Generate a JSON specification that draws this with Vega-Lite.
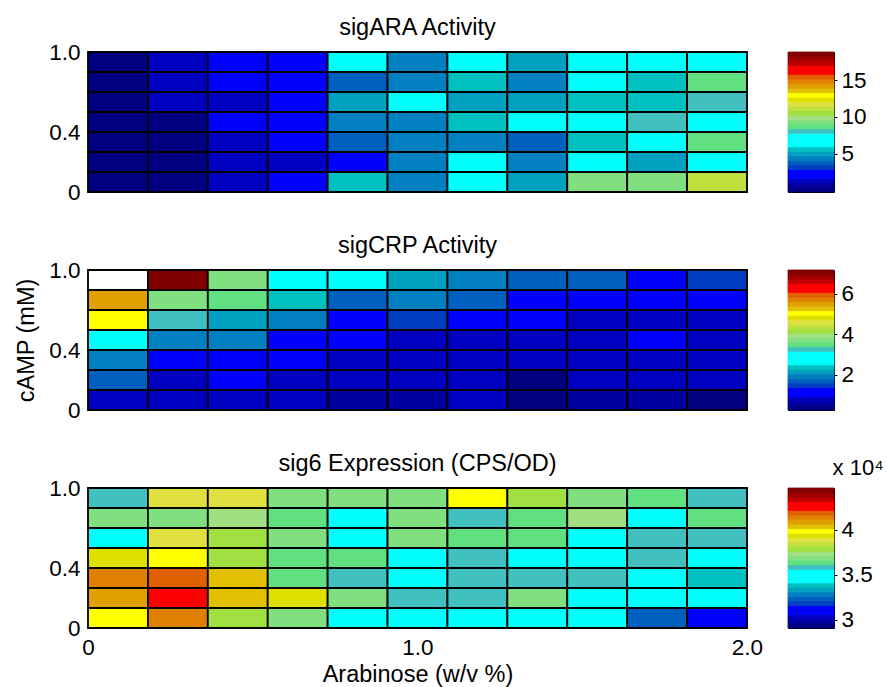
{
"$schema":"https://vega.github.io/schema/vega-lite/v6.json",
"padding":{"left":14,"top":15,"right":5,"bottom":0},
"spacing":218,
"bounds":"flush",
"resolve":{"scale":{"color":"independent","x":"independent","y":"independent"}},
"config":{"font":"Liberation Sans","axis":{"labelFont":"Liberation Sans","labelFontSize":22.5,"labelColor":"#000","titleFont":"Liberation Sans","titleFontSize":23.5,"titleFontWeight":"normal","titleColor":"#000","grid":false,"domain":false,"ticks":false,"labelFlush":false,"labelOverlap":false,"labelPadding":8},"title":{"font":"Liberation Sans","fontSize":23.5,"fontWeight":"normal","color":"#000","offset":2},"view":{"stroke":"#555"}},
"datasets":{
"cb":[{"l":0,"l2":1},{"l":1,"l2":2},{"l":2,"l2":3},{"l":3,"l2":4},{"l":4,"l2":5},{"l":5,"l2":6},{"l":6,"l2":7},{"l":7,"l2":8},{"l":8,"l2":9},{"l":9,"l2":10},{"l":10,"l2":11},{"l":11,"l2":12},{"l":12,"l2":13},{"l":13,"l2":14},{"l":14,"l2":15},{"l":15,"l2":16},{"l":16,"l2":17},{"l":17,"l2":18},{"l":18,"l2":19},{"l":19,"l2":20},{"l":20,"l2":21},{"l":21,"l2":22},{"l":22,"l2":23},{"l":23,"l2":24},{"l":24,"l2":25},{"l":25,"l2":26},{"l":26,"l2":27},{"l":27,"l2":28},{"l":28,"l2":29},{"l":29,"l2":30},{"l":30,"l2":31}],
"cells":[
{"p":1,"r":6,"r2":7,"c":0,"c2":1,"v":0.11},{"p":1,"r":6,"r2":7,"c":1,"c2":2,"v":1.33},{"p":1,"r":6,"r2":7,"c":2,"c2":3,"v":1.95},{"p":1,"r":6,"r2":7,"c":3,"c2":4,"v":1.95},{"p":1,"r":6,"r2":7,"c":4,"c2":5,"v":6.85},{"p":1,"r":6,"r2":7,"c":5,"c2":6,"v":4.40},{"p":1,"r":6,"r2":7,"c":6,"c2":7,"v":6.85},{"p":1,"r":6,"r2":7,"c":7,"c2":8,"v":5.01},{"p":1,"r":6,"r2":7,"c":8,"c2":9,"v":6.85},{"p":1,"r":6,"r2":7,"c":9,"c2":10,"v":6.85},{"p":1,"r":6,"r2":7,"c":10,"c2":11,"v":6.85},
{"p":1,"r":5,"r2":6,"c":0,"c2":1,"v":0.11},{"p":1,"r":5,"r2":6,"c":1,"c2":2,"v":1.33},{"p":1,"r":5,"r2":6,"c":2,"c2":3,"v":1.95},{"p":1,"r":5,"r2":6,"c":3,"c2":4,"v":1.95},{"p":1,"r":5,"r2":6,"c":4,"c2":5,"v":3.78},{"p":1,"r":5,"r2":6,"c":5,"c2":6,"v":4.40},{"p":1,"r":5,"r2":6,"c":6,"c2":7,"v":5.62},{"p":1,"r":5,"r2":6,"c":7,"c2":8,"v":4.40},{"p":1,"r":5,"r2":6,"c":8,"c2":9,"v":6.85},{"p":1,"r":5,"r2":6,"c":9,"c2":10,"v":5.62},{"p":1,"r":5,"r2":6,"c":10,"c2":11,"v":8.69},
{"p":1,"r":4,"r2":5,"c":0,"c2":1,"v":0.11},{"p":1,"r":4,"r2":5,"c":1,"c2":2,"v":1.33},{"p":1,"r":4,"r2":5,"c":2,"c2":3,"v":1.33},{"p":1,"r":4,"r2":5,"c":3,"c2":4,"v":1.95},{"p":1,"r":4,"r2":5,"c":4,"c2":5,"v":5.01},{"p":1,"r":4,"r2":5,"c":5,"c2":6,"v":6.85},{"p":1,"r":4,"r2":5,"c":6,"c2":7,"v":5.01},{"p":1,"r":4,"r2":5,"c":7,"c2":8,"v":5.01},{"p":1,"r":4,"r2":5,"c":8,"c2":9,"v":5.62},{"p":1,"r":4,"r2":5,"c":9,"c2":10,"v":5.62},{"p":1,"r":4,"r2":5,"c":10,"c2":11,"v":8.07},
{"p":1,"r":3,"r2":4,"c":0,"c2":1,"v":0.11},{"p":1,"r":3,"r2":4,"c":1,"c2":2,"v":0.11},{"p":1,"r":3,"r2":4,"c":2,"c2":3,"v":1.95},{"p":1,"r":3,"r2":4,"c":3,"c2":4,"v":1.95},{"p":1,"r":3,"r2":4,"c":4,"c2":5,"v":4.40},{"p":1,"r":3,"r2":4,"c":5,"c2":6,"v":4.40},{"p":1,"r":3,"r2":4,"c":6,"c2":7,"v":5.62},{"p":1,"r":3,"r2":4,"c":7,"c2":8,"v":6.85},{"p":1,"r":3,"r2":4,"c":8,"c2":9,"v":6.85},{"p":1,"r":3,"r2":4,"c":9,"c2":10,"v":8.07},{"p":1,"r":3,"r2":4,"c":10,"c2":11,"v":6.85},
{"p":1,"r":2,"r2":3,"c":0,"c2":1,"v":0.11},{"p":1,"r":2,"r2":3,"c":1,"c2":2,"v":0.11},{"p":1,"r":2,"r2":3,"c":2,"c2":3,"v":1.33},{"p":1,"r":2,"r2":3,"c":3,"c2":4,"v":1.95},{"p":1,"r":2,"r2":3,"c":4,"c2":5,"v":3.78},{"p":1,"r":2,"r2":3,"c":5,"c2":6,"v":4.40},{"p":1,"r":2,"r2":3,"c":6,"c2":7,"v":4.40},{"p":1,"r":2,"r2":3,"c":7,"c2":8,"v":3.78},{"p":1,"r":2,"r2":3,"c":8,"c2":9,"v":5.62},{"p":1,"r":2,"r2":3,"c":9,"c2":10,"v":6.85},{"p":1,"r":2,"r2":3,"c":10,"c2":11,"v":8.69},
{"p":1,"r":1,"r2":2,"c":0,"c2":1,"v":0.11},{"p":1,"r":1,"r2":2,"c":1,"c2":2,"v":0.11},{"p":1,"r":1,"r2":2,"c":2,"c2":3,"v":1.33},{"p":1,"r":1,"r2":2,"c":3,"c2":4,"v":1.33},{"p":1,"r":1,"r2":2,"c":4,"c2":5,"v":1.95},{"p":1,"r":1,"r2":2,"c":5,"c2":6,"v":4.40},{"p":1,"r":1,"r2":2,"c":6,"c2":7,"v":6.85},{"p":1,"r":1,"r2":2,"c":7,"c2":8,"v":4.40},{"p":1,"r":1,"r2":2,"c":8,"c2":9,"v":6.85},{"p":1,"r":1,"r2":2,"c":9,"c2":10,"v":5.01},{"p":1,"r":1,"r2":2,"c":10,"c2":11,"v":6.85},
{"p":1,"r":0,"r2":1,"c":0,"c2":1,"v":0.11},{"p":1,"r":0,"r2":1,"c":1,"c2":2,"v":0.11},{"p":1,"r":0,"r2":1,"c":2,"c2":3,"v":1.33},{"p":1,"r":0,"r2":1,"c":3,"c2":4,"v":1.95},{"p":1,"r":0,"r2":1,"c":4,"c2":5,"v":5.62},{"p":1,"r":0,"r2":1,"c":5,"c2":6,"v":4.40},{"p":1,"r":0,"r2":1,"c":6,"c2":7,"v":6.85},{"p":1,"r":0,"r2":1,"c":7,"c2":8,"v":5.01},{"p":1,"r":0,"r2":1,"c":8,"c2":9,"v":9.30},{"p":1,"r":0,"r2":1,"c":9,"c2":10,"v":9.30},{"p":1,"r":0,"r2":1,"c":10,"c2":11,"v":11.14},
{"p":2,"r":6,"r2":7,"c":0,"c2":1,"v":null},{"p":2,"r":6,"r2":7,"c":1,"c2":2,"v":7.06},{"p":2,"r":6,"r2":7,"c":2,"c2":3,"v":3.72},{"p":2,"r":6,"r2":7,"c":3,"c2":4,"v":2.83},{"p":2,"r":6,"r2":7,"c":4,"c2":5,"v":2.83},{"p":2,"r":6,"r2":7,"c":5,"c2":6,"v":2.16},{"p":2,"r":6,"r2":7,"c":6,"c2":7,"v":1.94},{"p":2,"r":6,"r2":7,"c":7,"c2":8,"v":1.72},{"p":2,"r":6,"r2":7,"c":8,"c2":9,"v":1.72},{"p":2,"r":6,"r2":7,"c":9,"c2":10,"v":1.05},{"p":2,"r":6,"r2":7,"c":10,"c2":11,"v":1.49},
{"p":2,"r":5,"r2":6,"c":0,"c2":1,"v":5.50},{"p":2,"r":5,"r2":6,"c":1,"c2":2,"v":3.72},{"p":2,"r":5,"r2":6,"c":2,"c2":3,"v":3.50},{"p":2,"r":5,"r2":6,"c":3,"c2":4,"v":2.38},{"p":2,"r":5,"r2":6,"c":4,"c2":5,"v":1.72},{"p":2,"r":5,"r2":6,"c":5,"c2":6,"v":1.94},{"p":2,"r":5,"r2":6,"c":6,"c2":7,"v":1.72},{"p":2,"r":5,"r2":6,"c":7,"c2":8,"v":1.05},{"p":2,"r":5,"r2":6,"c":8,"c2":9,"v":1.05},{"p":2,"r":5,"r2":6,"c":9,"c2":10,"v":1.05},{"p":2,"r":5,"r2":6,"c":10,"c2":11,"v":1.05},
{"p":2,"r":4,"r2":5,"c":0,"c2":1,"v":5.06},{"p":2,"r":4,"r2":5,"c":1,"c2":2,"v":3.27},{"p":2,"r":4,"r2":5,"c":2,"c2":3,"v":2.16},{"p":2,"r":4,"r2":5,"c":3,"c2":4,"v":1.94},{"p":2,"r":4,"r2":5,"c":4,"c2":5,"v":1.05},{"p":2,"r":4,"r2":5,"c":5,"c2":6,"v":1.49},{"p":2,"r":4,"r2":5,"c":6,"c2":7,"v":1.05},{"p":2,"r":4,"r2":5,"c":7,"c2":8,"v":1.05},{"p":2,"r":4,"r2":5,"c":8,"c2":9,"v":0.83},{"p":2,"r":4,"r2":5,"c":9,"c2":10,"v":0.83},{"p":2,"r":4,"r2":5,"c":10,"c2":11,"v":0.83},
{"p":2,"r":3,"r2":4,"c":0,"c2":1,"v":2.83},{"p":2,"r":3,"r2":4,"c":1,"c2":2,"v":1.94},{"p":2,"r":3,"r2":4,"c":2,"c2":3,"v":1.94},{"p":2,"r":3,"r2":4,"c":3,"c2":4,"v":1.05},{"p":2,"r":3,"r2":4,"c":4,"c2":5,"v":1.05},{"p":2,"r":3,"r2":4,"c":5,"c2":6,"v":0.83},{"p":2,"r":3,"r2":4,"c":6,"c2":7,"v":0.83},{"p":2,"r":3,"r2":4,"c":7,"c2":8,"v":0.83},{"p":2,"r":3,"r2":4,"c":8,"c2":9,"v":0.83},{"p":2,"r":3,"r2":4,"c":9,"c2":10,"v":1.05},{"p":2,"r":3,"r2":4,"c":10,"c2":11,"v":0.83},
{"p":2,"r":2,"r2":3,"c":0,"c2":1,"v":1.94},{"p":2,"r":2,"r2":3,"c":1,"c2":2,"v":1.05},{"p":2,"r":2,"r2":3,"c":2,"c2":3,"v":1.05},{"p":2,"r":2,"r2":3,"c":3,"c2":4,"v":1.05},{"p":2,"r":2,"r2":3,"c":4,"c2":5,"v":0.83},{"p":2,"r":2,"r2":3,"c":5,"c2":6,"v":0.83},{"p":2,"r":2,"r2":3,"c":6,"c2":7,"v":0.83},{"p":2,"r":2,"r2":3,"c":7,"c2":8,"v":0.83},{"p":2,"r":2,"r2":3,"c":8,"c2":9,"v":0.83},{"p":2,"r":2,"r2":3,"c":9,"c2":10,"v":0.83},{"p":2,"r":2,"r2":3,"c":10,"c2":11,"v":0.83},
{"p":2,"r":1,"r2":2,"c":0,"c2":1,"v":1.72},{"p":2,"r":1,"r2":2,"c":1,"c2":2,"v":0.83},{"p":2,"r":1,"r2":2,"c":2,"c2":3,"v":1.05},{"p":2,"r":1,"r2":2,"c":3,"c2":4,"v":0.83},{"p":2,"r":1,"r2":2,"c":4,"c2":5,"v":0.83},{"p":2,"r":1,"r2":2,"c":5,"c2":6,"v":0.83},{"p":2,"r":1,"r2":2,"c":6,"c2":7,"v":0.83},{"p":2,"r":1,"r2":2,"c":7,"c2":8,"v":0.38},{"p":2,"r":1,"r2":2,"c":8,"c2":9,"v":0.83},{"p":2,"r":1,"r2":2,"c":9,"c2":10,"v":0.83},{"p":2,"r":1,"r2":2,"c":10,"c2":11,"v":0.83},
{"p":2,"r":0,"r2":1,"c":0,"c2":1,"v":0.83},{"p":2,"r":0,"r2":1,"c":1,"c2":2,"v":0.83},{"p":2,"r":0,"r2":1,"c":2,"c2":3,"v":0.83},{"p":2,"r":0,"r2":1,"c":3,"c2":4,"v":0.83},{"p":2,"r":0,"r2":1,"c":4,"c2":5,"v":0.60},{"p":2,"r":0,"r2":1,"c":5,"c2":6,"v":0.60},{"p":2,"r":0,"r2":1,"c":6,"c2":7,"v":0.83},{"p":2,"r":0,"r2":1,"c":7,"c2":8,"v":0.38},{"p":2,"r":0,"r2":1,"c":8,"c2":9,"v":0.60},{"p":2,"r":0,"r2":1,"c":9,"c2":10,"v":0.60},{"p":2,"r":0,"r2":1,"c":10,"c2":11,"v":0.38},
{"p":3,"r":6,"r2":7,"c":0,"c2":1,"v":35850},{"p":3,"r":6,"r2":7,"c":1,"c2":2,"v":38850},{"p":3,"r":6,"r2":7,"c":2,"c2":3,"v":38850},{"p":3,"r":6,"r2":7,"c":3,"c2":4,"v":36850},{"p":3,"r":6,"r2":7,"c":4,"c2":5,"v":36850},{"p":3,"r":6,"r2":7,"c":5,"c2":6,"v":36850},{"p":3,"r":6,"r2":7,"c":6,"c2":7,"v":39850},{"p":3,"r":6,"r2":7,"c":7,"c2":8,"v":37850},{"p":3,"r":6,"r2":7,"c":8,"c2":9,"v":36850},{"p":3,"r":6,"r2":7,"c":9,"c2":10,"v":36350},{"p":3,"r":6,"r2":7,"c":10,"c2":11,"v":35850},
{"p":3,"r":5,"r2":6,"c":0,"c2":1,"v":36850},{"p":3,"r":5,"r2":6,"c":1,"c2":2,"v":36850},{"p":3,"r":5,"r2":6,"c":2,"c2":3,"v":37350},{"p":3,"r":5,"r2":6,"c":3,"c2":4,"v":36350},{"p":3,"r":5,"r2":6,"c":4,"c2":5,"v":34850},{"p":3,"r":5,"r2":6,"c":5,"c2":6,"v":36850},{"p":3,"r":5,"r2":6,"c":6,"c2":7,"v":35850},{"p":3,"r":5,"r2":6,"c":7,"c2":8,"v":36350},{"p":3,"r":5,"r2":6,"c":8,"c2":9,"v":37350},{"p":3,"r":5,"r2":6,"c":9,"c2":10,"v":34850},{"p":3,"r":5,"r2":6,"c":10,"c2":11,"v":36350},
{"p":3,"r":4,"r2":5,"c":0,"c2":1,"v":34850},{"p":3,"r":4,"r2":5,"c":1,"c2":2,"v":38850},{"p":3,"r":4,"r2":5,"c":2,"c2":3,"v":37850},{"p":3,"r":4,"r2":5,"c":3,"c2":4,"v":36850},{"p":3,"r":4,"r2":5,"c":4,"c2":5,"v":34850},{"p":3,"r":4,"r2":5,"c":5,"c2":6,"v":36850},{"p":3,"r":4,"r2":5,"c":6,"c2":7,"v":36350},{"p":3,"r":4,"r2":5,"c":7,"c2":8,"v":36350},{"p":3,"r":4,"r2":5,"c":8,"c2":9,"v":34850},{"p":3,"r":4,"r2":5,"c":9,"c2":10,"v":35850},{"p":3,"r":4,"r2":5,"c":10,"c2":11,"v":35850},
{"p":3,"r":3,"r2":4,"c":0,"c2":1,"v":39350},{"p":3,"r":3,"r2":4,"c":1,"c2":2,"v":39850},{"p":3,"r":3,"r2":4,"c":2,"c2":3,"v":37850},{"p":3,"r":3,"r2":4,"c":3,"c2":4,"v":36350},{"p":3,"r":3,"r2":4,"c":4,"c2":5,"v":36350},{"p":3,"r":3,"r2":4,"c":5,"c2":6,"v":34850},{"p":3,"r":3,"r2":4,"c":6,"c2":7,"v":35850},{"p":3,"r":3,"r2":4,"c":7,"c2":8,"v":34850},{"p":3,"r":3,"r2":4,"c":8,"c2":9,"v":34850},{"p":3,"r":3,"r2":4,"c":9,"c2":10,"v":35850},{"p":3,"r":3,"r2":4,"c":10,"c2":11,"v":34850},
{"p":3,"r":2,"r2":3,"c":0,"c2":1,"v":41350},{"p":3,"r":2,"r2":3,"c":1,"c2":2,"v":41850},{"p":3,"r":2,"r2":3,"c":2,"c2":3,"v":40350},{"p":3,"r":2,"r2":3,"c":3,"c2":4,"v":36350},{"p":3,"r":2,"r2":3,"c":4,"c2":5,"v":35850},{"p":3,"r":2,"r2":3,"c":5,"c2":6,"v":34850},{"p":3,"r":2,"r2":3,"c":6,"c2":7,"v":35850},{"p":3,"r":2,"r2":3,"c":7,"c2":8,"v":35850},{"p":3,"r":2,"r2":3,"c":8,"c2":9,"v":35850},{"p":3,"r":2,"r2":3,"c":9,"c2":10,"v":34850},{"p":3,"r":2,"r2":3,"c":10,"c2":11,"v":33850},
{"p":3,"r":1,"r2":2,"c":0,"c2":1,"v":40850},{"p":3,"r":1,"r2":2,"c":1,"c2":2,"v":42350},{"p":3,"r":1,"r2":2,"c":2,"c2":3,"v":40350},{"p":3,"r":1,"r2":2,"c":3,"c2":4,"v":39350},{"p":3,"r":1,"r2":2,"c":4,"c2":5,"v":36850},{"p":3,"r":1,"r2":2,"c":5,"c2":6,"v":35850},{"p":3,"r":1,"r2":2,"c":6,"c2":7,"v":35850},{"p":3,"r":1,"r2":2,"c":7,"c2":8,"v":36850},{"p":3,"r":1,"r2":2,"c":8,"c2":9,"v":34850},{"p":3,"r":1,"r2":2,"c":9,"c2":10,"v":34850},{"p":3,"r":1,"r2":2,"c":10,"c2":11,"v":34850},
{"p":3,"r":0,"r2":1,"c":0,"c2":1,"v":39850},{"p":3,"r":0,"r2":1,"c":1,"c2":2,"v":41350},{"p":3,"r":0,"r2":1,"c":2,"c2":3,"v":37850},{"p":3,"r":0,"r2":1,"c":3,"c2":4,"v":36850},{"p":3,"r":0,"r2":1,"c":4,"c2":5,"v":34850},{"p":3,"r":0,"r2":1,"c":5,"c2":6,"v":34850},{"p":3,"r":0,"r2":1,"c":6,"c2":7,"v":34850},{"p":3,"r":0,"r2":1,"c":7,"c2":8,"v":34850},{"p":3,"r":0,"r2":1,"c":8,"c2":9,"v":34850},{"p":3,"r":0,"r2":1,"c":9,"c2":10,"v":32350},{"p":3,"r":0,"r2":1,"c":10,"c2":11,"v":30850}
]},
"vconcat":[
{"hconcat":[
{"width":659,"height":140,"title":"sigARA Activity","data":{"name":"cells"},
"transform":[{"filter":"datum.p == 1"}],
"mark":{"type":"rect","stroke":"#000","strokeWidth":1.8},
"encoding":{
"x":{"field":"c","type":"quantitative","scale":{"domain":[0,11],"nice":false,"zero":false},"axis":null},
"x2":{"field":"c2"},
"y":{"field":"r","type":"quantitative","scale":{"domain":[0,7],"nice":false,"zero":false},"axis":{"values":[0,3,7],"labelExpr":"datum.value == 0 ? '0' : datum.value == 3 ? '0.4' : '1.0'","title":null}},
"y2":{"field":"r2"},
"color":{"field":"v","type":"quantitative","scale":{"type":"quantize","domain":[-0.2,18.8],"nice":false,"zero":false,"range":["#000080","#0000a0","#0000c0","#0000ff","#0000ff","#0040c0","#0060c0","#0080c0","#00a0c0","#00c0c0","#00ffff","#00ffff","#00ffff","#40c0c0","#60e080","#80e080","#a0e080","#a0e040","#c0e040","#e0e040","#e0e000","#ffff00","#e0c000","#e0a000","#e08000","#e06000","#ff0000","#ff0000","#c00000","#a00000","#800000"]},"legend":null}
}},
{"width":46,"height":140,"data":{"name":"cb"},"view":{"stroke":"#000"},
"mark":{"type":"rect","strokeWidth":0.8},
"encoding":{
"y":{"field":"l","type":"quantitative","scale":{"domain":[0,31],"nice":false,"zero":false},"axis":{"orient":"right","values":[8.484,16.642,24.8],"labelExpr":"datum.value < 12 ? '5' : datum.value < 20 ? '10' : '15'","title":null,"ticks":true,"tickSize":3,"tickColor":"#000","labelPadding":4}},
"y2":{"field":"l2"},
"color":{"field":"l","type":"quantitative","scale":{"type":"quantize","domain":[0,31],"nice":false,"zero":false,"range":["#000080","#0000a0","#0000c0","#0000ff","#0000ff","#0040c0","#0060c0","#0080c0","#00a0c0","#00c0c0","#00ffff","#00ffff","#00ffff","#40c0c0","#60e080","#80e080","#a0e080","#a0e040","#c0e040","#e0e040","#e0e000","#ffff00","#e0c000","#e0a000","#e08000","#e06000","#ff0000","#ff0000","#c00000","#a00000","#800000"]},"legend":null},
"stroke":{"field":"l","type":"quantitative","scale":{"type":"quantize","domain":[0,31],"nice":false,"zero":false,"range":["#000080","#0000a0","#0000c0","#0000ff","#0000ff","#0040c0","#0060c0","#0080c0","#00a0c0","#00c0c0","#00ffff","#00ffff","#00ffff","#40c0c0","#60e080","#80e080","#a0e080","#a0e040","#c0e040","#e0e040","#e0e000","#ffff00","#e0c000","#e0a000","#e08000","#e06000","#ff0000","#ff0000","#c00000","#a00000","#800000"]},"legend":null}
}}
],"spacing":41,"bounds":"flush","resolve":{"scale":{"color":"independent","stroke":"independent","y":"independent"}}},
{"hconcat":[
{"width":659,"height":140,"title":"sigCRP Activity","data":{"name":"cells"},
"transform":[{"filter":"datum.p == 2"}],
"mark":{"type":"rect","stroke":"#000","strokeWidth":1.8,"invalid":"show"},
"encoding":{
"x":{"field":"c","type":"quantitative","scale":{"domain":[0,11],"nice":false,"zero":false},"axis":null},
"x2":{"field":"c2"},
"y":{"field":"r","type":"quantitative","scale":{"domain":[0,7],"nice":false,"zero":false},"axis":{"values":[0,3,7],"labelExpr":"datum.value == 0 ? '0' : datum.value == 3 ? '0.4' : '1.0'","title":"cAMP (mM)","titlePadding":10}},
"y2":{"field":"r2"},
"color":{"condition":{"test":"datum.v === null","value":"#ffffff"},"field":"v","type":"quantitative","scale":{"type":"quantize","domain":[0.27,7.17],"nice":false,"zero":false,"range":["#000080","#0000a0","#0000c0","#0000ff","#0000ff","#0040c0","#0060c0","#0080c0","#00a0c0","#00c0c0","#00ffff","#00ffff","#00ffff","#40c0c0","#60e080","#80e080","#a0e080","#a0e040","#c0e040","#e0e040","#e0e000","#ffff00","#e0c000","#e0a000","#e08000","#e06000","#ff0000","#ff0000","#c00000","#a00000","#800000"]},"legend":null}
}},
{"width":46,"height":140,"data":{"name":"cb"},"view":{"stroke":"#000"},
"mark":{"type":"rect","strokeWidth":0.8},
"encoding":{
"y":{"field":"l","type":"quantitative","scale":{"domain":[0,31],"nice":false,"zero":false},"axis":{"orient":"right","values":[7.772,16.758,25.743],"labelExpr":"datum.value < 12 ? '2' : datum.value < 20 ? '4' : '6'","title":null,"ticks":true,"tickSize":3,"tickColor":"#000","labelPadding":4}},
"y2":{"field":"l2"},
"color":{"field":"l","type":"quantitative","scale":{"type":"quantize","domain":[0,31],"nice":false,"zero":false,"range":["#000080","#0000a0","#0000c0","#0000ff","#0000ff","#0040c0","#0060c0","#0080c0","#00a0c0","#00c0c0","#00ffff","#00ffff","#00ffff","#40c0c0","#60e080","#80e080","#a0e080","#a0e040","#c0e040","#e0e040","#e0e000","#ffff00","#e0c000","#e0a000","#e08000","#e06000","#ff0000","#ff0000","#c00000","#a00000","#800000"]},"legend":null},
"stroke":{"field":"l","type":"quantitative","scale":{"type":"quantize","domain":[0,31],"nice":false,"zero":false,"range":["#000080","#0000a0","#0000c0","#0000ff","#0000ff","#0040c0","#0060c0","#0080c0","#00a0c0","#00c0c0","#00ffff","#00ffff","#00ffff","#40c0c0","#60e080","#80e080","#a0e080","#a0e040","#c0e040","#e0e040","#e0e000","#ffff00","#e0c000","#e0a000","#e08000","#e06000","#ff0000","#ff0000","#c00000","#a00000","#800000"]},"legend":null}
}}
],"spacing":41,"bounds":"flush","resolve":{"scale":{"color":"independent","stroke":"independent","y":"independent"}}},
{"hconcat":[
{"width":659,"height":140,"title":"sig6 Expression (CPS/OD)","data":{"name":"cells"},
"transform":[{"filter":"datum.p == 3"}],
"mark":{"type":"rect","stroke":"#000","strokeWidth":1.8},
"encoding":{
"x":{"field":"c","type":"quantitative","scale":{"domain":[0,11],"nice":false,"zero":false},"axis":{"values":[0,5.5,11],"labelExpr":"datum.value == 0 ? '0' : datum.value == 11 ? '2.0' : '1.0'","title":"Arabinose (w/v %)","titlePadding":4}},
"x2":{"field":"c2"},
"y":{"field":"r","type":"quantitative","scale":{"domain":[0,7],"nice":false,"zero":false},"axis":{"values":[0,3,7],"labelExpr":"datum.value == 0 ? '0' : datum.value == 3 ? '0.4' : '1.0'","title":null}},
"y2":{"field":"r2"},
"color":{"field":"v","type":"quantitative","scale":{"type":"quantize","domain":[29100,44600],"nice":false,"zero":false,"range":["#000080","#0000a0","#0000c0","#0000ff","#0000ff","#0040c0","#0060c0","#0080c0","#00a0c0","#00c0c0","#00ffff","#00ffff","#00ffff","#40c0c0","#60e080","#80e080","#a0e080","#a0e040","#c0e040","#e0e040","#e0e000","#ffff00","#e0c000","#e0a000","#e08000","#e06000","#ff0000","#ff0000","#c00000","#a00000","#800000"]},"legend":null}
}},
{"width":46,"height":140,"data":{"name":"cb"},"view":{"stroke":"#000"},
"title":{"text":"x 10⁴","anchor":"start","dx":45,"offset":8,"fontSize":22},
"mark":{"type":"rect","strokeWidth":0.8},
"encoding":{
"y":{"field":"l","type":"quantitative","scale":{"domain":[0,31],"nice":false,"zero":false},"axis":{"orient":"right","values":[1.8,11.8,21.8],"labelExpr":"datum.value < 5 ? '3' : datum.value < 15 ? '3.5' : '4'","title":null,"ticks":true,"tickSize":3,"tickColor":"#000","labelPadding":4}},
"y2":{"field":"l2"},
"color":{"field":"l","type":"quantitative","scale":{"type":"quantize","domain":[0,31],"nice":false,"zero":false,"range":["#000080","#0000a0","#0000c0","#0000ff","#0000ff","#0040c0","#0060c0","#0080c0","#00a0c0","#00c0c0","#00ffff","#00ffff","#00ffff","#40c0c0","#60e080","#80e080","#a0e080","#a0e040","#c0e040","#e0e040","#e0e000","#ffff00","#e0c000","#e0a000","#e08000","#e06000","#ff0000","#ff0000","#c00000","#a00000","#800000"]},"legend":null},
"stroke":{"field":"l","type":"quantitative","scale":{"type":"quantize","domain":[0,31],"nice":false,"zero":false,"range":["#000080","#0000a0","#0000c0","#0000ff","#0000ff","#0040c0","#0060c0","#0080c0","#00a0c0","#00c0c0","#00ffff","#00ffff","#00ffff","#40c0c0","#60e080","#80e080","#a0e080","#a0e040","#c0e040","#e0e040","#e0e000","#ffff00","#e0c000","#e0a000","#e08000","#e06000","#ff0000","#ff0000","#c00000","#a00000","#800000"]},"legend":null}
}}
],"spacing":41,"bounds":"flush","resolve":{"scale":{"color":"independent","stroke":"independent","y":"independent"}}}
]
}
